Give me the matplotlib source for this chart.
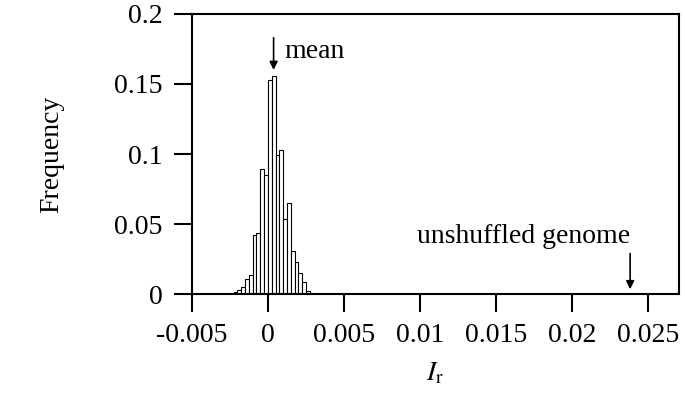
import matplotlib
matplotlib.use('Agg')
import matplotlib.pyplot as plt

# histogram of I_r for shuffled genomes (bin width 0.00025)
bin_left = [-0.00225, -0.002, -0.00175, -0.0015, -0.00125, -0.001, -0.00075, -0.0005, -0.00025, 0.0,
            0.00025, 0.0005, 0.00075, 0.001, 0.00125, 0.0015, 0.00175, 0.002, 0.00225, 0.0025]
bin_width = 0.00025
freq = [0.0012, 0.003, 0.005, 0.011, 0.014, 0.042, 0.044, 0.089, 0.085, 0.153,
        0.156, 0.0995, 0.103, 0.054, 0.065, 0.031, 0.023, 0.015, 0.009, 0.002]

mean_x = 0.000375
unshuffled_x = 0.0238

xticks = [-0.005, 0, 0.005, 0.01, 0.015, 0.02, 0.025]
xticklabels = ['-0.005', '0', '0.005', '0.01', '0.015', '0.02', '0.025']
yticks = [0, 0.05, 0.1, 0.15, 0.2]
yticklabels = ['0', '0.05', '0.1', '0.15', '0.2']

plt.rcParams['font.family'] = ['Liberation Serif', 'DejaVu Serif']
plt.rcParams['mathtext.fontset'] = 'stix'
plt.rcParams['font.size'] = 20

fig = plt.figure(figsize=(6.85, 3.97), dpi=100)
ax = fig.add_axes([0.280, 0.259, 0.711, 0.706])

ax.bar(bin_left, freq, width=bin_width, align='edge', color='white', edgecolor='black', linewidth=0.8)

ax.set_xlim(-0.005, 0.027)
ax.set_ylim(0, 0.2)
ax.set_xticks(xticks)
ax.set_xticklabels(xticklabels)
ax.set_yticks(yticks)
ax.set_yticklabels(yticklabels)
ax.tick_params(direction='out', length=13, width=1.5, pad=8, top=False, right=False)
for s in ax.spines.values():
    s.set_linewidth(1.5)

ax.set_ylabel('Frequency', labelpad=36)
ax.set_xlabel(r'$I_{\mathrm{r}}$', labelpad=9)

arrow = dict(arrowstyle='-|>', color='black', lw=1.2, mutation_scale=12, shrinkA=0, shrinkB=0)
ax.annotate('', xy=(mean_x, 0.160), xytext=(mean_x, 0.183), arrowprops=arrow)
ax.text(0.0011, 0.173, 'mean', ha='left', va='center')

ax.annotate('', xy=(unshuffled_x, 0.0035), xytext=(unshuffled_x, 0.029), arrowprops=arrow)
ax.text(unshuffled_x, 0.041, 'unshuffled genome', ha='right', va='center')

fig.savefig('out.png', dpi=100)
